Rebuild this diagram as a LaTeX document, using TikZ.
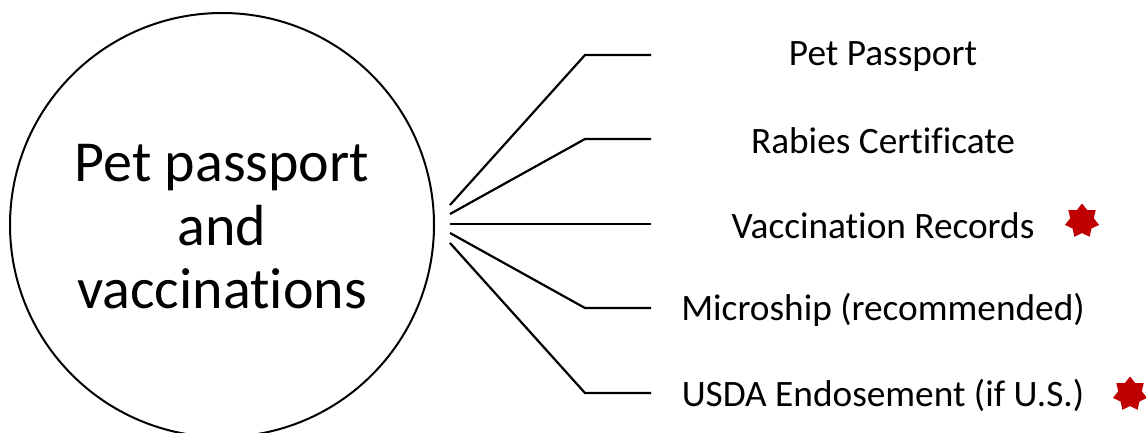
\documentclass[tikz,border=0pt]{standalone}
\usepackage{fontspec}
\setmainfont[Ligatures=NoCommon]{Carlito}
\usetikzlibrary{shapes.geometric}
\definecolor{starred}{HTML}{C00000}
\tikzset{
  conn/.style={line width=2.2pt, black},
  item/.style={font=\fontsize{37.3}{42}\selectfont, inner sep=0pt, anchor=center},
  mark7/.style={star, star points=7, star point ratio=1.45, fill=starred, draw=none, minimum size=35pt, inner sep=0pt},
}
\begin{document}
\begin{tikzpicture}[x=1pt,y=1pt]
\useasboundingbox (0,0) rectangle (1146,432);
\node[circle, draw, line width=2pt, minimum size=424pt, inner sep=0pt] (c) at (222,207) {};
\node[align=center, font=\fontsize{58}{63.5}\selectfont] (ct) at (222,205) {Pet passport\\and\\vaccinations};
% start points
\coordinate (s1) at (450,227);
\coordinate (s2) at (450,218);
\coordinate (s3) at (450,208);
\coordinate (s4) at (450,199);
\coordinate (s5) at (450,189);
% bends
\coordinate (b1) at (585,377);
\coordinate (b2) at (585,293);
\coordinate (b3) at (585,208);
\coordinate (b4) at (585,124);
\coordinate (b5) at (585,39);
% ends
\coordinate (e1) at (651,377);
\coordinate (e2) at (651,293);
\coordinate (e3) at (651,208);
\coordinate (e4) at (651,124);
\coordinate (e5) at (651,39);
\foreach \i in {1,...,5} { \draw[conn] (s\i) -- (b\i) -- (e\i); }
\node[item] (t1) at (883,375) {Pet Passport};
\node[item] (t2) at (883,291) {Rabies Certificate};
\node[item] (t3) at (883,206) {Vaccination Records};
\node[item] (t4) at (883,122) {Microship (recommended)};
\node[item] (t5) at (883,37) {USDA Endosement (if U.S.)};
\node[mark7] (m1) at (1082,211) {};
\node[mark7] (m2) at (1130,38) {};
\end{tikzpicture}
\end{document}
